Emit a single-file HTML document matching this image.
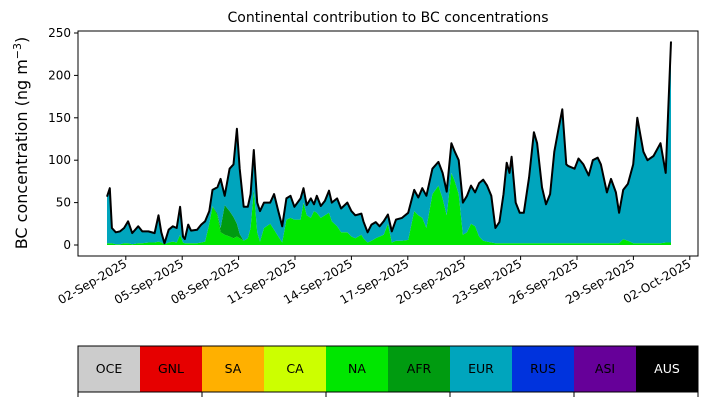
<!DOCTYPE html>
<html><head><meta charset="utf-8">
<style>
body{margin:0;background:#fff;width:707px;height:402px;overflow:hidden;font-family:"DejaVu Sans","Liberation Sans",sans-serif;}
svg text{font-family:"DejaVu Sans","Liberation Sans",sans-serif;}
</style></head>
<body>
<svg id="chart" width="707" height="402" xmlns="http://www.w3.org/2000/svg">
<text x="388" y="22" font-size="14" text-anchor="middle">Continental contribution to BC concentrations</text>
<text transform="translate(27,143) rotate(-90)" font-size="16" text-anchor="middle">BC concentration (ng m<tspan dy="-6" font-size="11">−3</tspan><tspan dy="6">)</tspan></text>
<g id="plot"></g>
<g id="legend"></g>
</svg>
<script>
const days=[0,.15,.26,.47,.69,.91,1.12,1.34,1.66,1.88,
2.20,2.53,2.74,2.89,3.06,3.28,3.50,3.71,3.89,4.04,
4.14,4.32,4.47,4.79,5.01,5.22,5.44,5.61,5.87,6.04,
6.26,6.52,6.73,6.91,7.06,7.27,7.49,7.64,7.81,7.99,
8.14,8.35,8.68,8.89,9.11,9.32,9.54,9.76,9.97,10.30,
10.45,10.62,10.84,11.01,11.16,11.37,11.59,11.81,11.96,12.24,
12.45,12.78,13.00,13.21,13.53,13.64,13.86,14.07,14.29,14.50,
14.72,14.94,15.15,15.37,15.69,16.02,16.34,16.56,16.77,16.99,
17.31,17.63,17.85,18.07,18.32,18.50,18.71,18.93,19.15,19.36,
19.58,19.79,20.01,20.22,20.44,20.66,20.87,21.09,21.26,21.41,
21.52,21.74,21.95,22.17,22.45,22.71,22.88,23.14,23.35,23.57,
23.79,24.00,24.22,24.43,24.54,24.87,25.08,25.34,25.62,25.84,
26.10,26.27,26.59,26.81,27.07,27.24,27.46,27.71,27.99,28.21,
28.53,28.75,29.07,29.44,29.72,30.00];
const total=[57,67,20,15,16,20,28,14,22,16,
16,14,35,15,2,18,22,20,45,10,
7,24,17,18,24,28,40,65,68,78,
58,90,95,137,90,45,45,60,112,50,
40,50,50,60,40,22,55,58,45,55,
67,47,55,48,58,46,52,64,50,55,
43,50,40,35,37,28,15,24,27,22,
28,36,16,30,32,38,65,56,67,58,
90,98,85,63,120,110,100,50,58,70,
62,73,77,70,58,20,27,60,97,85,
104,50,38,38,80,133,120,68,48,60,
110,135,160,95,93,90,102,95,82,100,
103,95,62,78,62,38,65,72,95,150,
110,100,105,120,85,240];
const naVals=[2,2,2,1,1,2,2,1,2,2,
3,3,4,3,1,3,4,3,12,3,
2,2,2,2,3,4,25,45,35,15,
12,10,8,10,8,5,8,20,65,15,
4,20,25,18,10,3,30,32,30,30,
50,35,32,40,38,32,35,38,28,22,
15,15,10,8,12,8,3,5,8,10,
12,25,3,5,5,6,40,35,32,20,
60,70,55,35,85,75,60,12,15,25,
22,10,5,4,3,2,2,2,2,2,
2,2,2,2,2,2,2,2,2,2,
2,2,2,2,2,2,2,2,2,2,
2,2,2,2,2,2,7,5,2,2,
2,2,2,2,3,3];
const afrVals=[0,0,0,0,0,0,0,0,0,0,
0,0,0,0,0,0,0,0,0,0,
0,0,0,0,0,0,0,1,2,5,
35,30,25,15,5,0,0,0,0,0,
0,0,0,0,0,0,0,0,0,0,
0,0,0,0,0,0,0,0,0,0,
0,0,0,0,0,0,0,0,0,0,
0,0,0,0,0,0,0,0,0,0,
0,0,0,0,0,0,0,0,0,0,
0,0,0,0,0,0,0,0,0,0,
0,0,0,0,0,0,0,0,0,0,
0,0,0,0,0,0,0,0,0,0,
0,0,0,0,0,0,0,0,0,0,
0,0,0,0,0,0];
const yTicks=[0,50,100,150,200,250];
const xTickDays=[1,4,7,10,13,16,19,22,25,28,31];
const xTickLabels=["02-Sep-2025","05-Sep-2025","08-Sep-2025","11-Sep-2025","14-Sep-2025","17-Sep-2025","20-Sep-2025","23-Sep-2025","26-Sep-2025","29-Sep-2025","02-Oct-2025"];
const legendNames=["OCE","GNL","SA","CA","NA","AFR","EUR","RUS","ASI","AUS"];
const legendColors=["#cccccc","#e60000","#ffb000","#ccff00","#00e600","#009b10","#00a5bd","#0033dd","#660099","#000000"];

const NS="http://www.w3.org/2000/svg";
const L=78,R=698,T=31,B=256;
const x=d=>107+d*18.8;
const y=v=>245-v*0.848;
const plot=document.getElementById('plot');
function mk(tag,attrs,parent){const e=document.createElementNS(NS,tag);for(const k in attrs)e.setAttribute(k,attrs[k]);parent.appendChild(e);return e;}

function band(lo,hi,color,name){
  let p="M"+x(days[0])+","+y(hi[0]);
  for(let i=1;i<days.length;i++)p+="L"+x(days[i]).toFixed(1)+","+y(hi[i]).toFixed(1);
  for(let i=days.length-1;i>=0;i--)p+="L"+x(days[i]).toFixed(1)+","+y(lo[i]).toFixed(1);
  const e=mk('path',{d:p+"Z",fill:color},plot);
  
  
}
const zero=days.map(()=>0);
const s1=naVals.slice();
const s2=naVals.map((v,i)=>v+afrVals[i]);
band(zero,s1,"#00e600","area-na");
band(s1,s2,"#009b10","area-afr");
band(s2,total,"#00a5bd","area-eur");
let lp="";
for(let i=0;i<days.length;i++)lp+=(i?"L":"M")+x(days[i]).toFixed(1)+","+y(total[i]).toFixed(1);
const ln=mk('path',{d:lp,fill:"none",stroke:"#000",'stroke-width':2,'stroke-linejoin':'round'},plot);



const fr=mk('rect',{x:L,y:T,width:R-L,height:B-T,fill:"none",stroke:"#000",'stroke-width':1},plot);



yTicks.forEach(v=>{
  const tk=mk('line',{x1:L-4,x2:L,y1:y(v),y2:y(v),stroke:"#000"},plot);
  
  
  const t=mk('text',{x:L-7,y:y(v)+4,'font-size':12,'text-anchor':'end'},plot);
  
  
  t.textContent=v;
});
xTickDays.forEach((d,i)=>{
  const xx=x(d);
  const tk=mk('line',{x1:xx,x2:xx,y1:B,y2:B+4,stroke:"#000"},plot);
  
  
  const t=mk('text',{transform:`translate(${xx+2},${B+10}) rotate(-30)`,'font-size':12,'text-anchor':'end'},plot);
  
  
  t.textContent=xTickLabels[i];
});

const lg=document.getElementById('legend');
const bw=(R-L)/legendNames.length;
legendNames.forEach((n,i)=>{
  const r=mk('rect',{x:L+i*bw,y:346,width:bw+0.5,height:46,fill:legendColors[i]},lg);
  
  
  const t=mk('text',{x:L+i*bw+bw/2,y:373,'font-size':12.5,'text-anchor':'middle',fill:n==="AUS"?"#fff":"#000"},lg);
  
  
  t.textContent=n;
});
const lb=mk('rect',{x:L,y:346,width:R-L,height:46,fill:"none",stroke:"#000"},lg);


for(let k=0;k<=5;k++){
  const tk=mk('line',{x1:L+k*2*bw,x2:L+k*2*bw,y1:392,y2:397,stroke:"#000"},lg);
  
  
}
</script>
</body></html>
